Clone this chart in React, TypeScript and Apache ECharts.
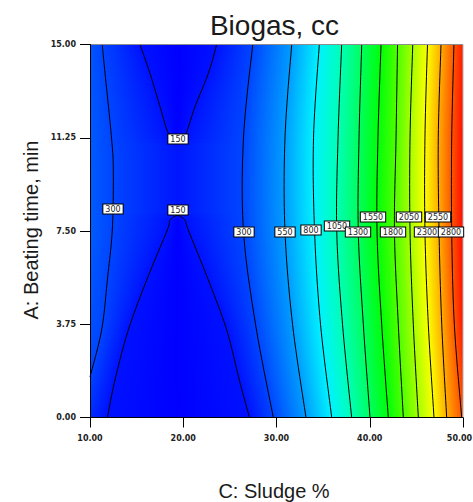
import React, { useEffect, useRef } from 'react';
import * as echarts from 'echarts';

// ---------------- data ----------------
const titleText = 'Biogas, cc';
const xName = 'C: Sludge %';
const yName = 'A: Beating time, min';

// rows (A: Beating time) at which the right-hand contours were read
const rowA = [0, 3.75, 7.5, 11.25, 15];
// C (Sludge %) position of each contour at the rows above
const c300R = [29.66, 27.75, 26.46, 26.46, 27.45];
const c550 = [33.16, 31.72, 30.91, 30.91, 31.63];
const c800 = [35.92, 34.72, 34.08, 33.97, 34.59];
const c1050 = [38.06, 37.08, 36.46, 36.6, 36.99];
const c1300 = [40.03, 39.31, 38.77, 38.85, 39.14];
const c1550 = [41.99, 41.28, 40.78, 40.88, 41.21];
const c1800 = [43.6, 43.06, 42.65, 42.82, 42.98];
const c2050 = [45.21, 44.67, 44.32, 44.32, 44.61];
const c2300 = [46.89, 46.28, 45.92, 45.92, 46.19];
const c2550 = [48.25, 47.72, 47.43, 47.35, 47.64];
const c2800 = [49.86, 49.07, 48.79, 48.79, 49.03];
const rightLevels = [300, 550, 800, 1050, 1300, 1550, 1800, 2050, 2300, 2550, 2800];
const rightContours = [c300R, c550, c800, c1050, c1300, c1550, c1800, c2050, c2300, c2550, c2800];

// left 300 contour, [C, A]
const c300L = [[10.0, 1.63], [11.25, 3.52], [11.86, 5.53], [12.39, 7.54], [12.5, 9.83], [12.33, 11.16], [11.61, 13.85], [11.31, 15]];
// 150 contour, upper branch and lower branch, [C, A]
const c150Top = [[15.36, 15], [16.43, 13.84], [17.51, 12.5], [18.4, 11.43], [19.4, 11.04], [20.29, 11.43], [21.26, 12.5], [22.69, 13.84], [23.59, 15]];
const c150Bottom = [[11.86, 0], [12.68, 1.51], [14.11, 3.52], [16.08, 5.53], [18.29, 7.54], [18.58, 7.94], [19.4, 8.12], [20.18, 7.94], [20.54, 7.54], [22.69, 5.53], [24.66, 3.52], [26.01, 1.51], [27.1, 0]];

// estimated response at the plot edges
const leftEdgeA = [0, 1.63, 3.75, 7.5, 11.25, 15];
const leftEdgeV = [225, 300, 335, 365, 360, 345];
const rightEdgeV = [2830, 2985, 3020, 3010, 2975];
const saddle = { c: 19.4, v: 160 };
const innerMin = 100;

// contour labels: [text, C, A]
const contourLabels: [string, number, number][] = [
  ['300', 12.47, 8.37], ['150', 19.4, 11.2], ['150', 19.4, 8.34], ['300', 26.51, 7.47],
  ['550', 30.91, 7.47], ['800', 33.7, 7.54], ['1050', 36.52, 7.7], ['1300', 38.77, 7.47],
  ['1550', 40.35, 8.07], ['1800', 42.49, 7.47], ['2050', 44.21, 8.07], ['2300', 46.11, 7.47],
  ['2550', 47.29, 8.07], ['2800', 48.71, 7.47],
];

// ---------------- styling helpers ----------------
const FONT = "'Liberation Sans', Arial, sans-serif";
const TICK_FONT = "'DejaVu Sans', sans-serif";
const V_MIN = 100;
const V_MAX = 3050;
const RAMP = [
  [0, [0, 0, 255]], [0.25, [0, 255, 255]], [0.5, [0, 255, 0]], [0.75, [255, 255, 0]], [1, [255, 0, 0]],
] as [number, number[]][];

function colorOf(v: number) {
  let t = (v - V_MIN) / (V_MAX - V_MIN);
  t = Math.max(0, Math.min(1, t));
  for (let i = 0; i < RAMP.length - 1; i++) {
    const [t0, c0] = RAMP[i];
    const [t1, c1] = RAMP[i + 1];
    if (t <= t1) {
      const f = (t - t0) / (t1 - t0);
      const c = c0.map((x, k) => Math.round(x + (c1[k] - x) * f));
      return `rgb(${c[0]},${c[1]},${c[2]})`;
    }
  }
  return 'rgb(255,0,0)';
}

function spline(pts: number[][], seg = 12) {
  const out: number[][] = [];
  for (let i = 0; i < pts.length - 1; i++) {
    const p0 = pts[i - 1] || pts[i];
    const p1 = pts[i];
    const p2 = pts[i + 1];
    const p3 = pts[i + 2] || pts[i + 1];
    for (let s = 0; s < seg; s++) {
      const t = s / seg, t2 = t * t, t3 = t2 * t;
      const f = (k: number) =>
        0.5 * (2 * p1[k] + (-p0[k] + p2[k]) * t + (2 * p0[k] - 5 * p1[k] + 4 * p2[k] - p3[k]) * t2 + (-p0[k] + 3 * p1[k] - 3 * p2[k] + p3[k]) * t3);
      out.push([f(0), f(1)]);
    }
  }
  out.push(pts[pts.length - 1]);
  return out;
}

function crossings(poly: number[][], yc: number) {
  const xs: number[] = [];
  for (let i = 0; i < poly.length - 1; i++) {
    const p = poly[i], q = poly[i + 1];
    if ((p[1] - yc) * (q[1] - yc) <= 0 && p[1] !== q[1]) {
      xs.push(p[0] + ((yc - p[1]) / (q[1] - p[1])) * (q[0] - p[0]));
    }
  }
  return xs;
}

function interpY(pts: number[][], yc: number) {
  const s = [...pts].sort((a, b) => a[0] - b[0]);
  if (yc <= s[0][0]) return s[0][1];
  for (let i = 0; i < s.length - 1; i++) {
    if (yc <= s[i + 1][0]) {
      const f = (yc - s[i][0]) / (s[i + 1][0] - s[i][0]);
      return s[i][1] + (s[i + 1][1] - s[i][1]) * f;
    }
  }
  return s[s.length - 1][1];
}

function renderItem(params: any, api: any) {
  const cs = params.coordSys;
  const L = cs.x, T = cs.y, W = cs.width, H = cs.height;
  const px = (p: number[]) => api.coord(p) as number[];

  const rightCurves = rightContours.map((arr, i) => ({
    level: rightLevels[i],
    poly: spline(rowA.map((a, k) => px([arr[k], a]))),
  }));
  const leftCurve = { level: 300, poly: spline(c300L.map(px)) };
  const topCurve = spline(c150Top.map(px));
  const botCurve = spline(c150Bottom.map(px));
  const leftEdge = leftEdgeA.map((a, i) => [px([10, a])[1], leftEdgeV[i]]);
  const rightEdge = rowA.map((a, i) => [px([50, a])[1], rightEdgeV[i]]);
  const saddleX = px([saddle.c, 7.5])[0];

  const children: any[] = [];
  const N = 90;
  for (let i = 0; i < N; i++) {
    const y0 = T + (i * H) / N;
    const y1 = T + ((i + 1) * H) / N;
    const yc = (y0 + y1) / 2;
    const stops: { x: number; v: number }[] = [
      { x: L, v: interpY(leftEdge, yc) },
      { x: L + W, v: interpY(rightEdge, yc) },
    ];
    [...rightCurves, leftCurve].forEach((c) => {
      crossings(c.poly, yc).forEach((x) => stops.push({ x, v: c.level }));
    });
    const tx = crossings(topCurve, yc);
    const bx = crossings(botCurve, yc);
    tx.forEach((x) => stops.push({ x, v: 150 }));
    bx.forEach((x) => stops.push({ x, v: 150 }));
    if (tx.length >= 2) stops.push({ x: (tx[0] + tx[tx.length - 1]) / 2, v: innerMin });
    if (bx.length >= 2) stops.push({ x: (bx[0] + bx[bx.length - 1]) / 2, v: innerMin });
    if (tx.length < 2 && bx.length < 2) stops.push({ x: saddleX, v: saddle.v });
    stops.sort((a, b) => a.x - b.x);
    const colorStops = stops.map((s) => ({
      offset: Math.max(0, Math.min(1, (s.x - L) / W)),
      color: colorOf(s.v),
    }));
    const top = Math.max(T, y0 - 0.6);
    const bottom = Math.min(T + H, y1 + 0.6);
    children.push({
      type: 'rect',
      shape: { x: L, y: top, width: W, height: bottom - top },
      style: { fill: new echarts.graphic.LinearGradient(0, 0, 1, 0, colorStops) },
      silent: true,
    });
  }

  const lineStyle = { stroke: '#000', lineWidth: 1, fill: null };
  [...rightCurves.map((c) => c.poly), leftCurve.poly, topCurve, botCurve].forEach((poly) => {
    children.push({ type: 'polyline', shape: { points: poly }, style: lineStyle, silent: true });
  });

  // frame top & right
  children.push({ type: 'line', shape: { x1: L, y1: T, x2: L + W, y2: T }, style: { stroke: '#8c8c8c', lineWidth: 1 } });
  children.push({ type: 'line', shape: { x1: L + W, y1: T, x2: L + W, y2: T + H }, style: { stroke: '#b0b0b0', lineWidth: 1 } });

  contourLabels.forEach(([text, c, a]) => {
    const p = px([c, a]);
    children.push({
      type: 'text',
      style: {
        text,
        x: Math.round(p[0]),
        y: Math.round(p[1]),
        align: 'center',
        verticalAlign: 'middle',
        fontSize: 8,
        fontFamily: TICK_FONT,
        fill: '#222',
        backgroundColor: '#fff',
        borderColor: '#000',
        borderWidth: 1,
        padding: [1, 2, 0, 2],
      },
      silent: true,
    });
  });

  return { type: 'group', children };
}

export default function App() {
  const ref = useRef<HTMLDivElement>(null);
  useEffect(() => {
    const chart = echarts.init(ref.current!, null, { renderer: 'svg' });
    const axisCommon = {
      type: 'value' as const,
      z: 5,
      splitLine: { show: false },
      axisLine: { show: true, lineStyle: { color: '#000', width: 1 } },
      axisTick: { show: true, length: 10, lineStyle: { color: '#000', width: 1 } },
    };
    const tickText = { fontFamily: TICK_FONT, fontWeight: 'bold' as const, fontSize: 8, color: '#222' };
    chart.setOption({
      animation: false,
      backgroundColor: '#fff',
      grid: { left: 90, top: 44.5, width: 373, height: 373, outerBoundsMode: 'none', containLabel: false },
      xAxis: {
        ...axisCommon,
        min: 10,
        max: 50,
        interval: 10,
        axisLabel: {
          formatter: (v: number) => (v >= 50 ? `{last|${v.toFixed(2)}}` : v.toFixed(2)),
          ...tickText,
          margin: 17,
          rich: { last: { ...tickText, padding: [0, 7, 0, 0] } },
        },
      },
      yAxis: {
        ...axisCommon,
        min: 0,
        max: 15,
        interval: 3.75,
        axisLabel: {
          formatter: (v: number) => v.toFixed(2),
          ...tickText,
          margin: 14,
        },
      },
      series: [
        {
          type: 'custom',
          renderItem,
          data: [[10, 0]],
          encode: { x: 0, y: 1 },
          clip: false,
          silent: true,
          z: 1,
        },
      ],
      graphic: [
        {
          type: 'text',
          x: 274.5,
          y: 25,
          style: { text: titleText, font: `28px ${FONT}`, fill: '#1a1a1a', align: 'center', verticalAlign: 'middle' },
        },
        {
          type: 'text',
          x: 274,
          y: 491,
          style: { text: xName, font: `20px ${FONT}`, fill: '#1a1a1a', align: 'center', verticalAlign: 'middle' },
        },
        {
          type: 'text',
          x: 31,
          y: 230,
          rotation: Math.PI / 2,
          style: { text: yName, font: `20px ${FONT}`, fill: '#1a1a1a', align: 'center', verticalAlign: 'middle' },
        },
      ],
    });
    return () => chart.dispose();
  }, []);
  return <div ref={ref} style={{ position: 'fixed', left: 0, top: 0, width: 473, height: 502, background: '#fff' }} />;
}
